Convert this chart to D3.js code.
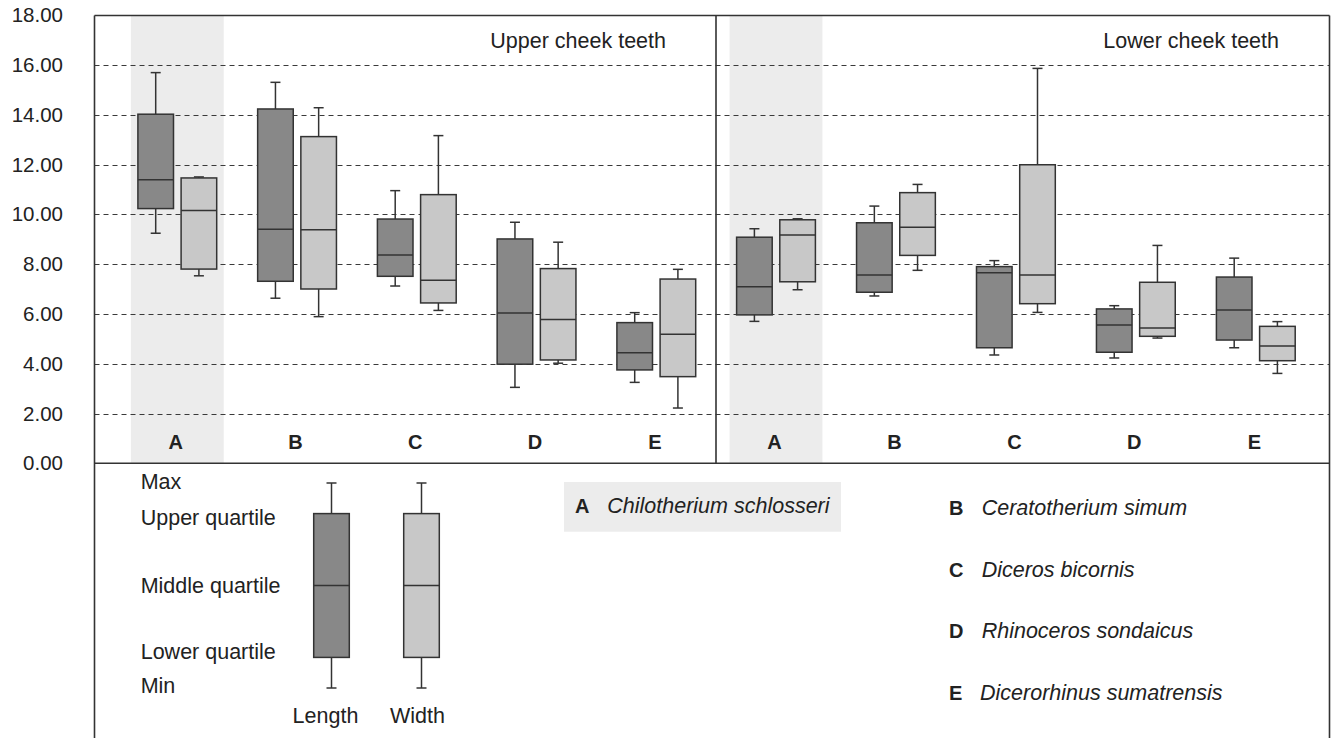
<!DOCTYPE html>
<html>
<head>
<meta charset="utf-8">
<script src="https://cdn.jsdelivr.net/npm/d3@7"></script>
<style>
  html, body { margin: 0; padding: 0; background: #fff; }
  svg { display: block; font-family: "Liberation Sans", Arial, Helvetica, sans-serif; }
</style>
</head>
<body>
<svg id="chart" width="1331" height="738"></svg>
<script>
// ---------- DATA ----------
const categories = ["A", "B", "C", "D", "E"];
const yTicks = [0, 2, 4, 6, 8, 10, 12, 14, 16, 18];
const panelTitles = ["Upper cheek teeth", "Lower cheek teeth"];
// each entry: [min, lower quartile, median, upper quartile, max]
const upperLength = [
  [9.24, 10.23, 11.39, 14.02, 15.69],
  [6.63, 7.31, 9.40, 14.23, 15.30],
  [7.12, 7.51, 8.37, 9.81, 10.95],
  [3.05, 3.98, 6.04, 9.01, 9.68],
  [3.25, 3.75, 4.44, 5.65, 6.05]
];
const upperWidth = [
  [7.53, 7.80, 10.15, 11.46, 11.50],
  [5.89, 7.00, 9.38, 13.12, 14.28],
  [6.14, 6.44, 7.35, 10.79, 13.16],
  [4.02, 4.15, 5.78, 7.82, 8.88],
  [2.22, 3.48, 5.18, 7.40, 7.79]
];
const lowerLength = [
  [5.70, 5.96, 7.09, 9.08, 9.42],
  [6.72, 6.87, 7.56, 9.66, 10.33],
  [4.35, 4.64, 7.65, 7.90, 8.14],
  [4.23, 4.46, 5.55, 6.20, 6.33],
  [4.64, 4.95, 6.16, 7.48, 8.24]
];
const lowerWidth = [
  [6.97, 7.29, 9.17, 9.78, 9.82],
  [7.75, 8.35, 9.48, 10.87, 11.20],
  [6.06, 6.41, 7.56, 11.99, 15.86],
  [5.03, 5.10, 5.43, 7.27, 8.75],
  [3.61, 4.12, 4.71, 5.50, 5.69]
];
const speciesNames = [
  "Chilotherium schlosseri",
  "Ceratotherium simum",
  "Diceros bicornis",
  "Rhinoceros sondaicus",
  "Dicerorhinus sumatrensis"
];
const legendStatLabels = ["Max", "Upper quartile", "Middle quartile", "Lower quartile", "Min"];
const legendSeries = ["Length", "Width"];
// schematic box for the key: [min, q1, median, q3, max]
const legendSchematic = [0, 1, 3.35, 5.7, 6.7];

// ---------- STYLE / LAYOUT ----------
const colLength = "#888888", colWidth = "#c8c8c8", colStroke = "#333333", bandCol = "#ececec";
const frameL = 94.5, frameR = 1329.5, frameT = 15.5, zeroY = 463.3, divX = 716, frameB = 738;
const boxW = 35.6, boxOff = 21.6, capW = 10;
const textSize = 21.5;

const svg = d3.select("#chart");

const y = d3.scaleLinear().domain([0, 18]).range([zeroY, 15.1]);
const xUpper = d3.scalePoint().domain(categories).range([177.3, 656.3]);
const xLower = d3.scalePoint().domain(categories).range([776, 1255.8]);

// shaded bands for category A
[xUpper, xLower].forEach(xs => {
  svg.append("rect")
    .attr("x", xs("A") - 46.4).attr("width", 92.8)
    .attr("y", frameT).attr("height", zeroY - frameT)
    .attr("fill", bandCol);
});

// dashed gridlines
svg.append("g").selectAll("line")
  .data(yTicks.filter(t => t > 0 && t < 18))
  .join("line")
  .attr("x1", frameL).attr("x2", frameR)
  .attr("y1", d => Math.round(y(d)) + 0.5).attr("y2", d => Math.round(y(d)) + 0.5)
  .attr("stroke", "#3a3a3a").attr("stroke-width", 1)
  .attr("stroke-dasharray", "5,4");

// y axis labels
const yAxis = d3.axisLeft(y).tickValues(yTicks).tickFormat(d => d.toFixed(2)).tickSize(0).tickPadding(0);
const gy = svg.append("g").attr("transform", "translate(63,0)").call(yAxis);
gy.select(".domain").remove();
gy.selectAll("text")
  .attr("font-size", 20.5).attr("fill", "#222")
  .attr("font-family", "'Liberation Sans', Arial, sans-serif");

// frame
const frame = svg.append("g").attr("stroke", colStroke).attr("stroke-width", 1.6).attr("fill", "none");
frame.append("line").attr("x1", frameL).attr("x2", frameR).attr("y1", frameT).attr("y2", frameT);
frame.append("line").attr("x1", frameL).attr("x2", frameL).attr("y1", frameT).attr("y2", frameB);
frame.append("line").attr("x1", frameR).attr("x2", frameR).attr("y1", frameT).attr("y2", frameB);
frame.append("line").attr("x1", frameL).attr("x2", frameR).attr("y1", zeroY).attr("y2", zeroY);
frame.append("line").attr("x1", divX).attr("x2", divX).attr("y1", frameT).attr("y2", zeroY);

// box plot drawing
function drawBox(g, cx, stats, yScale, fill) {
  const [mn, q1, md, q3, mx] = stats;
  const s = g.append("g").attr("stroke", colStroke).attr("stroke-width", 1.5);
  s.append("line").attr("x1", cx).attr("x2", cx).attr("y1", yScale(q3)).attr("y2", yScale(mx));
  s.append("line").attr("x1", cx).attr("x2", cx).attr("y1", yScale(q1)).attr("y2", yScale(mn));
  s.append("line").attr("x1", cx - capW / 2).attr("x2", cx + capW / 2).attr("y1", yScale(mx)).attr("y2", yScale(mx));
  s.append("line").attr("x1", cx - capW / 2).attr("x2", cx + capW / 2).attr("y1", yScale(mn)).attr("y2", yScale(mn));
  s.append("rect").attr("x", cx - boxW / 2).attr("width", boxW)
    .attr("y", yScale(q3)).attr("height", yScale(q1) - yScale(q3))
    .attr("fill", fill);
  s.append("line").attr("x1", cx - boxW / 2).attr("x2", cx + boxW / 2).attr("y1", yScale(md)).attr("y2", yScale(md));
}

const panels = [
  { xs: xUpper, len: upperLength, wid: upperWidth, title: panelTitles[0], titleEnd: 666 },
  { xs: xLower, len: lowerLength, wid: lowerWidth, title: panelTitles[1], titleEnd: 1279 }
];
panels.forEach(p => {
  const g = svg.append("g");
  categories.forEach((c, i) => {
    drawBox(g, p.xs(c) - boxOff, p.len[i], y, colLength);
    drawBox(g, p.xs(c) + boxOff, p.wid[i], y, colWidth);
  });
  g.selectAll("text.cat").data(categories).join("text")
    .attr("class", "cat")
    .attr("x", d => p.xs(d) - 1.5).attr("y", 449)
    .attr("text-anchor", "middle").attr("font-weight", "bold").attr("font-size", 20)
    .attr("fill", "#222").text(d => d);
  g.append("text").attr("x", p.titleEnd).attr("y", 48)
    .attr("text-anchor", "end").attr("font-size", textSize).attr("fill", "#222").text(p.title);
});

// ---------- KEY ----------
const ly = d3.scaleLinear().domain([0, 6.7]).range([688, 483]);
const key = svg.append("g");
drawBox(key, 331.5, legendSchematic, ly, colLength);
drawBox(key, 421.5, legendSchematic, ly, colWidth);
const statBaselines = [489.3, 525, 592.7, 659.3, 692.7];
key.selectAll("text.stat").data(legendStatLabels).join("text")
  .attr("class", "stat").attr("x", 140.7).attr("y", (d, i) => statBaselines[i])
  .attr("font-size", textSize).attr("fill", "#222").text(d => d);
key.selectAll("text.ser").data(legendSeries).join("text")
  .attr("class", "ser").attr("x", (d, i) => [325.5, 417.5][i]).attr("y", 723.3)
  .attr("text-anchor", "middle").attr("font-size", textSize).attr("fill", "#222").text(d => d);

// species key
key.append("rect").attr("x", 564).attr("y", 482).attr("width", 277).attr("height", 49.7).attr("fill", bandCol);
const spPos = [
  { lx: 575, tx: 607.3, by: 512.7 },
  { lx: 949, tx: 981.7, by: 515 },
  { lx: 949, tx: 981.7, by: 576.7 },
  { lx: 949, tx: 981.7, by: 638.3 },
  { lx: 949, tx: 980, by: 700 }
];
categories.forEach((c, i) => {
  key.append("text").attr("x", spPos[i].lx).attr("y", spPos[i].by)
    .attr("font-weight", "bold").attr("font-size", 20).attr("fill", "#222").text(c);
  key.append("text").attr("x", spPos[i].tx).attr("y", spPos[i].by)
    .attr("font-style", "italic").attr("font-size", textSize).attr("fill", "#222").text(speciesNames[i]);
});
</script>
</body>
</html>
